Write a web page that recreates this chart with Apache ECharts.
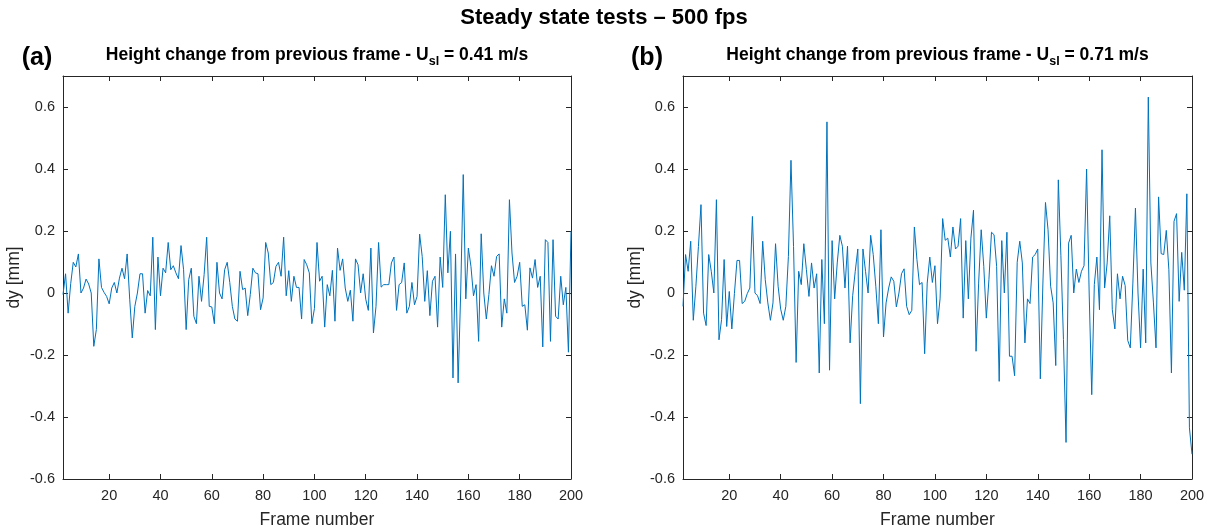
<!DOCTYPE html>
<html><head><meta charset="utf-8">
<script src="https://cdn.jsdelivr.net/npm/echarts@6/dist/echarts.min.js"></script>
<style>html,body{margin:0;padding:0;background:#fff}#c{width:1209px;height:531px}</style>
</head><body><div id="c"></div>
<script>
// ---------------- data ----------------
const firstFrame = 2;
const lastFrame = 200;
const xTicks = [20, 40, 60, 80, 100, 120, 140, 160, 180, 200];
const yTicks = [-0.6, -0.4, -0.2, 0, 0.2, 0.4, 0.6];
const yMin = -0.6, yMax = 0.7;

const mainTitle = 'Steady state tests \u2013 500 fps';
const panelTags = ['(a)', '(b)'];
const panelSpeeds = ['0.41', '0.71'];
const xName = 'Frame number';
const yName = 'dy [mm]';

const dyA = [
 -0.005,0.062,-0.065,0.03,0.099,0.084,0.126,0.0,0.016,0.045,
 0.029,0.0,-0.172,-0.118,0.11,0.018,0.002,-0.011,-0.035,0.016,
 0.034,0.0,0.048,0.08,0.046,0.126,-0.02,-0.145,-0.043,0.0,
 0.062,0.062,-0.065,0.008,-0.009,0.18,-0.118,0.116,-0.009,0.08,
 0.065,0.163,0.075,0.088,0.065,0.046,0.153,0.075,-0.118,0.043,
 0.08,-0.075,-0.099,0.054,-0.027,0.059,0.18,-0.043,-0.045,-0.099,
 0.099,0.0,-0.019,0.075,0.099,0.034,-0.043,-0.084,-0.091,0.07,
 0.011,0.016,-0.073,-0.005,0.08,0.065,0.062,-0.054,-0.016,0.163,
 0.129,0.027,0.034,0.086,0.099,0.054,0.18,-0.009,0.072,-0.027,
 0.054,0.018,0.018,-0.084,0.108,0.091,0.065,-0.099,-0.05,0.163,
 0.038,0.054,-0.11,0.027,-0.009,0.073,-0.091,0.145,0.073,0.11,
 0.016,-0.027,0.009,-0.091,0.11,0.091,0.0,0.062,-0.02,-0.056,
 0.145,-0.129,-0.043,0.163,0.019,0.027,0.027,0.027,0.097,0.116,
 -0.056,0.027,0.034,0.097,-0.065,-0.043,0.034,-0.038,-0.011,0.19,
 0.118,-0.027,0.072,-0.073,0.038,0.054,-0.11,0.116,0.018,0.317,
 0.065,0.199,-0.274,0.126,-0.29,0.0,0.382,-0.019,0.145,0.086,
 -0.009,0.027,-0.156,0.191,0.0,-0.084,-0.005,0.088,0.054,0.118,
 0.126,-0.11,-0.019,-0.065,0.301,0.129,0.034,0.054,0.099,-0.043,
 -0.038,-0.12,0.081,0.048,0.108,0.018,0.054,-0.174,0.172,0.163,
 -0.156,0.172,-0.075,-0.084,0.054,-0.038,0.018,-0.191,0.199
];

const dyB = [
 -0.043,0.124,0.07,0.167,-0.088,0.02,0.15,0.285,-0.065,-0.105,
 0.124,0.07,0.0,0.301,-0.151,-0.086,0.108,-0.108,0.005,-0.116,
 -0.002,0.105,0.105,-0.034,-0.027,-0.002,0.016,0.247,0.0,-0.009,
 -0.034,0.167,0.043,-0.032,-0.088,-0.032,0.159,0.022,-0.052,-0.088,
 -0.043,0.118,0.428,0.15,-0.224,0.07,0.027,0.159,0.075,-0.011,
 0.097,0.016,0.062,-0.258,0.108,-0.099,0.552,-0.249,0.169,-0.019,
 0.097,0.186,0.151,0.016,0.151,-0.161,-0.009,0.07,0.142,-0.357,
 0.142,0.07,0.0,0.186,0.124,0.022,-0.099,0.204,-0.142,-0.032,
 0.016,0.052,0.038,-0.045,0.0,0.062,0.078,-0.043,-0.07,-0.056,
 0.213,0.108,0.027,0.034,-0.196,0.032,0.116,0.034,0.088,-0.099,
 -0.019,0.24,0.17,0.177,0.116,0.213,0.142,0.151,0.24,-0.081,
 0.169,-0.019,0.177,0.267,-0.188,0.032,0.204,0.086,-0.081,0.043,
 0.196,0.188,0.086,-0.285,0.169,0.0,0.196,-0.204,-0.204,-0.267,
 0.099,0.167,0.097,-0.161,-0.019,-0.034,0.116,0.124,0.142,-0.277,
 0.032,0.292,0.204,0.022,-0.032,-0.234,0.365,0.12,-0.15,-0.482,
 0.161,0.186,0.0,0.077,0.034,0.07,0.088,0.4,0.0,-0.328,
 0.027,0.116,-0.054,0.462,0.016,0.097,0.249,-0.054,-0.116,0.062,
 -0.019,0.054,0.024,-0.153,-0.177,0.032,0.274,0.0,-0.177,0.077,
 -0.161,0.632,0.097,-0.032,-0.177,0.31,0.127,0.124,0.202,0.075,
 -0.258,0.231,0.256,-0.027,0.131,0.009,0.32,-0.435,-0.52
];

// ---------------- chart ----------------
const FONT = '"Liberation Sans", Arial, Helvetica, sans-serif';
const INK = '#262626';
const LINE = '#0072BD';
const panels = [
  { left: 63, width: 508, data: dyA, tagX: 37, yNameX: 14 },
  { left: 683, width: 509, data: dyB, tagX: 647, yNameX: 635 }
];
const TOP = 76, HEIGHT = 403;

const grid = [], xAxis = [], yAxis = [], series = [], graphic = [];
const fmtY = v => (Math.abs(v) < 1e-9 ? '0' : String(+v.toFixed(1)));

panels.forEach((p, i) => {
  grid.push({ left: p.left, top: TOP, width: p.width, height: HEIGHT, containLabel: false });
  const axLine = { show: true, onZero: false, lineStyle: { color: INK, width: 1 } };
  const tickX = { show: true, inside: true, length: 5, customValues: xTicks, lineStyle: { color: INK, width: 1 } };
  const tickY = { show: true, inside: true, length: 5, customValues: yTicks, lineStyle: { color: INK, width: 1 } };
  xAxis.push({
    type: 'value', gridIndex: i, position: 'bottom', min: firstFrame, max: lastFrame,
    axisLine: axLine, axisTick: tickX, splitLine: { show: false },
    axisLabel: { show: true, customValues: xTicks, color: INK, fontFamily: FONT, fontSize: 14.5, margin: 9 }
  });
  xAxis.push({
    type: 'value', gridIndex: i, position: 'top', min: firstFrame, max: lastFrame,
    axisLine: axLine, axisTick: tickX, splitLine: { show: false }, axisLabel: { show: false }
  });
  yAxis.push({
    type: 'value', gridIndex: i, position: 'left', min: yMin, max: yMax,
    axisLine: axLine, axisTick: tickY, splitLine: { show: false },
    axisLabel: { show: true, customValues: yTicks, formatter: fmtY, color: INK, fontFamily: FONT, fontSize: 14.5, margin: 8 }
  });
  yAxis.push({
    type: 'value', gridIndex: i, position: 'right', min: yMin, max: yMax,
    axisLine: axLine, axisTick: tickY, splitLine: { show: false }, axisLabel: { show: false }
  });
  series.push({
    type: 'line', xAxisIndex: i * 2, yAxisIndex: i * 2, showSymbol: false, symbol: 'none',
    lineStyle: { color: LINE, width: 1 }, animation: false,
    data: p.data.map((v, k) => [firstFrame + k, v])
  });
  const cx = p.left + p.width / 2;
  graphic.push({ type: 'text', x: p.tagX, y: 58,
    style: { text: panelTags[i], font: 'bold 25px ' + FONT, fill: '#000', align: 'center', verticalAlign: 'middle' } });
  graphic.push({ type: 'text', x: cx, y: 46,
    style: {
      text: '{a|Height change from previous frame - U}{s|sl}{a| = ' + panelSpeeds[i] + ' m/s}',
      align: 'center', verticalAlign: 'top',
      rich: {
        a: { fontFamily: FONT, fontSize: 17.5, fontWeight: 'bold', fill: '#000', lineHeight: 18, verticalAlign: 'top' },
        s: { fontFamily: FONT, fontSize: 12.5, fontWeight: 'bold', fill: '#000', lineHeight: 13, padding: [9, 0, 0, 0], verticalAlign: 'top' }
      }
    } });
  graphic.push({ type: 'text', x: cx, y: 520,
    style: { text: xName, font: '17.5px ' + FONT, fill: INK, align: 'center', verticalAlign: 'middle' } });
  graphic.push({ type: 'text', x: p.yNameX, y: TOP + HEIGHT / 2, rotation: Math.PI / 2,
    style: { text: yName, font: '17.5px ' + FONT, fill: INK, align: 'center', verticalAlign: 'middle' } });
});

graphic.push({ type: 'text', x: 604, y: 18,
  style: { text: mainTitle, font: 'bold 22px ' + FONT, fill: '#000', align: 'center', verticalAlign: 'middle' } });

const chart = echarts.init(document.getElementById('c'), null, { renderer: 'canvas' });
chart.setOption({ animation: false, backgroundColor: '#fff', grid, xAxis, yAxis, series, graphic });
</script></body></html>
